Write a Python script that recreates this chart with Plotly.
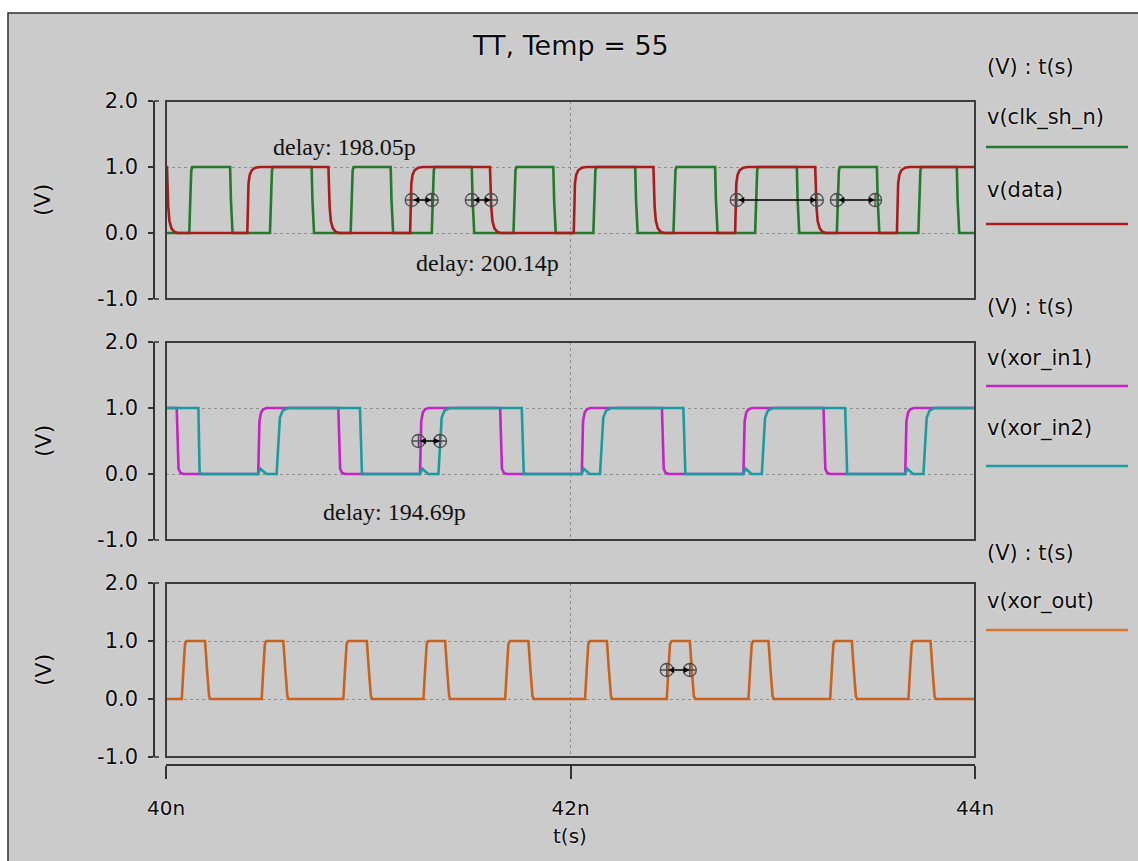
import plotly.graph_objects as go

W, H = 1138, 861

# ---- waveform data (times in ns, levels in V) ----
T_START, T_END = 40.0, 44.0
VDD = 1.0

clk_init = 0
clk_edges = [40.115, 40.317, 40.514, 40.720, 40.913, 41.111, 41.314, 41.512,
             41.718, 41.915, 42.113, 42.320, 42.509, 42.715, 42.913, 43.119,
             43.317, 43.515, 43.720, 43.910]
data_init = 1
data_edges = [40.005, 40.402, 40.803, 41.207, 41.602, 42.016, 42.410, 42.814,
              43.210, 43.614]
in1_init = 1
in1_edges = [40.053, 40.456, 40.852, 41.256, 41.652, 42.056, 42.452, 42.855,
             43.251, 43.655]
in2_init = 1
in2_edges = [40.160, 40.547, 40.959, 41.347, 41.759, 42.146, 42.558, 42.946,
             43.358, 43.745]
out_init = 0
out_edges = [40.078, 40.193, 40.473, 40.580, 40.877, 40.993, 41.273, 41.380,
             41.677, 41.792, 42.072, 42.180, 42.476, 42.590, 42.880, 42.979,
             43.284, 43.391, 43.671, 43.780]

# edge profiles: (offset ns, fraction of VDD)
clk_rise = [(0, 0), (0.005, 0.5), (0.010, 0.95), (0.015, 1)]
clk_fall = [(0, 1), (0.004, 0.5), (0.008, 0.05), (0.012, 0)]
data_rise = [(0, 0), (0.006, 0.75), (0.012, 0.88), (0.022, 0.95), (0.040, 0.99), (0.063, 1)]
data_fall = [(0, 1), (0.006, 0.4), (0.012, 0.18), (0.022, 0.07), (0.035, 0.02), (0.052, 0)]
in1_rise = [(0, 0), (0.006, 0.8), (0.014, 0.93), (0.025, 0.98), (0.042, 1)]
in1_fall = [(0, 1), (0.009, 0.08), (0.018, 0.02), (0.032, 0)]
in2_rise = [(-0.092, 0), (-0.080, 0.08), (-0.066, 0.04), (-0.050, 0.0), (0, 0),
            (0.016, 0.85), (0.030, 0.96), (0.055, 1)]
in2_fall = [(0, 1), (0.006, 0.05), (0.010, 0)]
out_rise = [(0, 0), (0.008, 0.5), (0.016, 0.95), (0.024, 1)]
out_fall = [(0, 1), (0.010, 0.5), (0.020, 0.05), (0.026, 0)]

# delay measurement cursors (start, end) at the 50% level
top_marks = [(41.215, 41.314), (41.512, 41.607), (42.822, 43.218), (43.317, 43.506)]
mid_marks = [(41.248, 41.355)]
bot_marks = [(42.476, 42.590)]
delay_texts = [("delay: 198.05p", 40.885, 1.30, "top"),
               ("delay: 200.14p", 41.590, -0.45, "top"),
               ("delay: 194.69p", 41.130, -0.58, "mid")]

y_ticks = [-1, 0, 1, 2]
y_tick_text = ["-1.0", "0.0", "1.0", "2.0"]
x_ticks = [40, 42, 44]
x_tick_text = ["40n", "42n", "44n"]

C_CLK, C_DATA = "#237a2b", "#aa1c1c"
C_IN1, C_IN2, C_OUT = "#c424c4", "#1b9ba0", "#c9621f"


def build(init, edges, rise, fall):
    t, v = [T_START], [init * VDD]
    level = init
    for te in edges:
        prof = rise if level == 0 else fall
        for dt, f in prof:
            t.append(te + dt)
            v.append(f * VDD)
        level = 1 - level
    t.append(T_END)
    v.append(level * VDD)
    return t, v


def px(x):
    return x / W


def py(y):
    return 1 - y / H


fig = go.Figure()

# panel axes: top -> x2/y2, middle -> x3/y3, bottom -> x/y
panels = {"top": ("x2", "y2"), "mid": ("x3", "y3"), "bot": ("x", "y")}

series = [
    ("top", clk_init, clk_edges, clk_rise, clk_fall, C_CLK),
    ("top", data_init, data_edges, data_rise, data_fall, C_DATA),
    ("mid", in1_init, in1_edges, in1_rise, in1_fall, C_IN1),
    ("mid", in2_init, in2_edges, in2_rise, in2_fall, C_IN2),
    ("bot", out_init, out_edges, out_rise, out_fall, C_OUT),
]
for panel, init, edges, rise, fall, color in series:
    t, v = build(init, edges, rise, fall)
    xa, ya = panels[panel]
    fig.add_trace(go.Scatter(x=t, y=v, mode="lines", xaxis=xa, yaxis=ya,
                             line=dict(color=color, width=2.6),
                             showlegend=False, hoverinfo="skip"))

annotations = []
for panel, marks in (("top", top_marks), ("mid", mid_marks), ("bot", bot_marks)):
    xa, ya = panels[panel]
    xs = [a for pair in marks for a in pair]
    fig.add_trace(go.Scatter(x=xs, y=[0.5] * len(xs), mode="markers",
                             xaxis=xa, yaxis=ya, showlegend=False, hoverinfo="skip",
                             marker=dict(symbol="circle-cross-open", size=13,
                                         color="#4a4a4a", line=dict(width=1.3))))
    for a, b in marks:
        annotations.append(dict(x=b, y=0.5, ax=a, ay=0.5, xref=xa, yref=ya,
                                axref=xa, ayref=ya, text="", showarrow=True,
                                arrowside="end+start", arrowhead=2, startarrowhead=2,
                                arrowsize=0.8, startarrowsize=0.8, arrowwidth=1.5,
                                arrowcolor="black", standoff=0, startstandoff=0))

serif = dict(family="Liberation Serif", size=24, color="#111111")
for txt, tx, ty, panel in delay_texts:
    xa, ya = panels[panel]
    annotations.append(dict(x=tx, y=ty, xref=xa, yref=ya, text=txt,
                            xanchor="center", yanchor="middle",
                            showarrow=False, font=serif))

sans = "DejaVu Sans"
halo = "0px 0px 2px #ffffff"


def label(x, y, txt, size, anchor="center", angle=0):
    return dict(x=px(x), y=py(y), xref="paper", yref="paper", text=txt,
                xanchor=anchor, yanchor="middle", textangle=angle, showarrow=False,
                font=dict(family=sans, size=size, color="#0a0a0a", shadow=halo))


annotations.append(label(570, 45, "TT, Temp = 55", 27))
annotations.append(label(570, 836, "t(s)", 20))
for yc in (200, 441, 670):
    annotations.append(label(43, yc, "(V)", 22, angle=-90))

legend_rows = [("(V) : t(s)", 67, None), ("v(clk_sh_n)", 118, None), (None, 147, C_CLK),
               ("v(data)", 190, None), (None, 224, C_DATA),
               ("(V) : t(s)", 307, None), ("v(xor_in1)", 358, None), (None, 386, C_IN1),
               ("v(xor_in2)", 428, None), (None, 466, C_IN2),
               ("(V) : t(s)", 553, None), ("v(xor_out)", 601, None), (None, 630, "#dc7430")]

shapes = [
    # framed grey backdrop
    dict(type="rect", xref="paper", yref="paper", x0=px(8), x1=1.02, y0=-0.02, y1=py(13),
         fillcolor="#cbcbcb", line=dict(color="#2e2e2e", width=1.5), layer="below"),
]
for txt, yc, col in legend_rows:
    if txt is not None:
        annotations.append(label(985, yc, txt, 21, anchor="left"))
    else:
        shapes.append(dict(type="line", xref="paper", yref="paper", x0=px(986), x1=px(1128),
                           y0=py(yc), y1=py(yc), line=dict(color=col, width=2.5)))

# panel frames and y-axis bracket hooks
domains = {"top": (py(299), py(101)), "mid": (py(540), py(342)), "bot": (py(757), py(583))}
for panel, (xa, ya) in panels.items():
    shapes.append(dict(type="rect", xref=xa + " domain", yref=ya + " domain",
                       x0=0, x1=1, y0=0, y1=1, line=dict(color="#3c3c3c", width=2),
                       layer="above"))
    d0, d1 = domains[panel]
    for yy in (d0, d1):
        shapes.append(dict(type="line", xref="paper", yref="paper", x0=px(154), x1=px(159),
                           y0=yy, y1=yy, line=dict(color="#333", width=1.5)))

x_dom = [px(166), px(975)]
grid = dict(showgrid=True, gridcolor="#8e8e8e", griddash="dot", gridwidth=1.2,
            zeroline=False)

common_y = dict(range=[-1, 2], tickvals=y_ticks, ticktext=y_tick_text,
                anchor="free", position=px(154), showline=True, linecolor="#333",
                linewidth=1.5, ticks="outside", ticklen=5, tickcolor="#333",
                tickwidth=1.5, ticklabelstandoff=6,
                tickfont=dict(family=sans, size=21, color="#0a0a0a", shadow=halo), **grid)
hidden_x = dict(range=[T_START, T_END], domain=x_dom, tickvals=x_ticks,
                showticklabels=False, ticks="", showline=False, matches="x", **grid)

fig.update_layout(
    width=W, height=H,
    margin=dict(l=0, r=0, t=0, b=0, autoexpand=False),
    paper_bgcolor="#ffffff", plot_bgcolor="#ffffff",
    showlegend=False,
    xaxis=dict(range=[T_START, T_END], domain=x_dom, tickvals=x_ticks,
               ticktext=x_tick_text, anchor="free", position=py(765),
               showline=True, linecolor="#333", linewidth=1.5, ticks="outside",
               ticklen=13, tickwidth=1.5, tickcolor="#333",
               tickfont=dict(family=sans, size=20, color="#0a0a0a", shadow=halo),
               ticklabelstandoff=12, **grid),
    yaxis=dict(domain=list(domains["bot"]), **common_y),
    xaxis2=dict(anchor="y2", **hidden_x),
    yaxis2=dict(domain=list(domains["top"]), **common_y),
    xaxis3=dict(anchor="y3", **hidden_x),
    yaxis3=dict(domain=list(domains["mid"]), **common_y),
    shapes=shapes,
    annotations=annotations,
)

fig.write_html("out.html")
